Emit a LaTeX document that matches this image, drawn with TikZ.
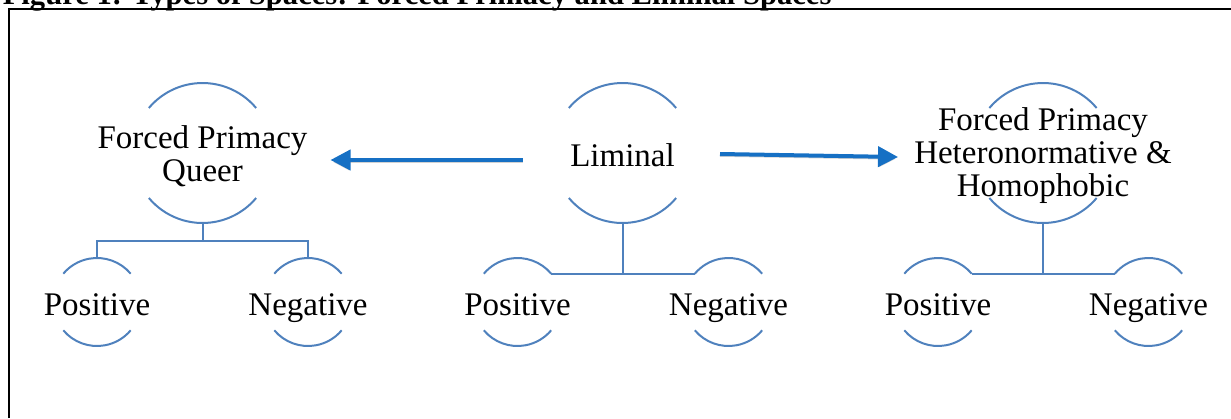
\documentclass[tikz,border=0pt]{standalone}
\usepackage{fontspec}
\setmainfont{Liberation Serif}
\usetikzlibrary{arrows.meta}
\definecolor{ringblue}{RGB}{79,129,189}
\definecolor{arrowblue}{RGB}{22,112,196}
\tikzset{every picture/.style={line width=0.75pt}}

\begin{document}
\begin{tikzpicture}[x=0.5pt,y=-0.5pt,
    bigring/.style={circle, minimum size=70pt, inner sep=0pt, outer sep=0pt},
    smallring/.style={circle, minimum size=44pt, inner sep=0pt, outer sep=0pt},
    caption/.style={align=center, inner sep=0pt, font=\fontsize{16.5}{16.5}\selectfont},
    word/.style={inner sep=0pt, text height=13pt, text depth=0pt, font=\fontsize{16.5}{16.5}\selectfont},
    arcline/.style={draw=ringblue, line width=1pt},
    flow/.style={draw=arrowblue, line width=2pt, -{Triangle[length=10pt,width=10pt]},
      preaction={draw=black!18, transform canvas={yshift=-1pt}}},
    frame/.style={draw=black, line width=1pt}]
    \useasboundingbox (0,0) rectangle (1231,418);
    \clip (0,0) rectangle (1231,418);
    % title and frame
    \node[anchor=base west, inner sep=0pt, font=\bfseries\fontsize{15.3}{15.3}\selectfont] (title) at (2,4) {Figure 1: Types of Spaces: Forced Primacy and Liminal Spaces};
    \draw[frame] (9,418) -- (9,9) -- (1231,9);
    % rings
    \node[bigring] (fpq) at (202.5,153) {};
    \node[bigring] (lim) at (622.5,153) {};
    \node[bigring] (fph) at (1043,153) {};
    \node[smallring] (fpqpos) at (97,302) {};
    \node[smallring] (fpqneg) at (308,302) {};
    \node[smallring] (limpos) at (517.5,302) {};
    \node[smallring] (limneg) at (728.5,302) {};
    \node[smallring] (fphpos) at (938,302) {};
    \node[smallring] (fphneg) at (1148.5,302) {};
    \foreach \n in {fpq,lim,fph} {
      \draw[arcline] (\n.40) arc[start angle=40, end angle=140, radius=35pt];
      \draw[arcline] (\n.220) arc[start angle=220, end angle=320, radius=35pt];
    }
    \foreach \n in {fpqpos,fpqneg,limpos,limneg,fphpos,fphneg} {
      \draw[arcline] (\n.40) arc[start angle=40, end angle=140, radius=22pt];
      \draw[arcline] (\n.220) arc[start angle=220, end angle=320, radius=22pt];
    }
    % texts
    \node[caption] (fpqt) at (202.5,156) {Forced Primacy\\Queer};
    \node[word] (limt) at (lim) {Liminal};
    \node[caption] (fpht) at (1043,156) {Forced Primacy\\Heteronormative \&\\Homophobic};
    \foreach \n in {fpqpos,limpos,fphpos} \node[word] at (\n) {Positive};
    \foreach \n in {fpqneg,limneg,fphneg} \node[word] at (\n) {Negative};
    % tree links
    \draw[arcline] (fpq.south) -- ++(0,18) coordinate (fpqbar);
    \draw[arcline] (fpqbar) -| (fpqpos.north);
    \draw[arcline] (fpqbar) -| (fpqneg.north);
    \draw[arcline] (limpos.40) -- (limneg.140);
    \draw[arcline] (lim.south) -- (lim.south |- limpos.40);
    \draw[arcline] (fphpos.40) -- (fphneg.140);
    \draw[arcline] (fph.south) -- (fph.south |- fphpos.40);
    % arrows
    \draw[flow] ([xshift=-15pt,yshift=-3.5pt]lim.west) -- ([xshift=29pt,yshift=-3.5pt]fpq.east);
    \draw[flow] ([xshift=13.75pt,yshift=-0.5pt]lim.east) -- ([xshift=-37.5pt,yshift=-2pt]fph.west);
\end{tikzpicture}
\end{document}
